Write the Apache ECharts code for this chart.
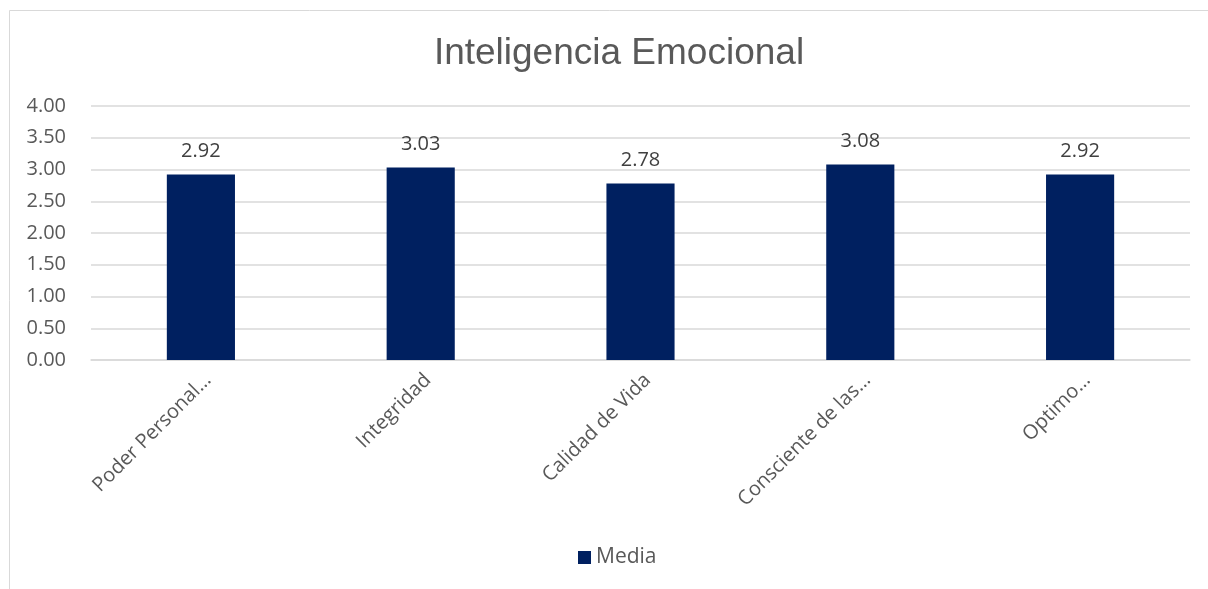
<!DOCTYPE html>
<html>
<head>
<meta charset="utf-8">
<script src="https://cdn.jsdelivr.net/npm/echarts@6/dist/echarts.min.js"></script>
<style>
html,body{margin:0;padding:0;background:#fff;}
#chart{width:1208px;height:589px;}
</style>
</head>
<body>
<div id="chart"></div>
<script>
// Category names and mean scores per dimension
const categories = ['Poder Personal…', 'Integridad', 'Calidad de Vida', 'Consciente de las…', 'Optimo…'];
const media = [2.92, 3.03, 2.78, 3.08, 2.92];
const yTicks = { min: 0, max: 4, interval: 0.5 };

const chart = echarts.init(document.getElementById('chart'));
chart.setOption({
  backgroundColor: '#ffffff',
  animation: false,
  graphic: [{
    type: 'rect',
    shape: { x: 9.5, y: 10.5, width: 1220, height: 600 },
    style: { fill: 'none', stroke: '#d9d9d9', lineWidth: 1 }
  }],
  title: {
    text: 'Inteligencia Emocional',
    left: 614,
    textAlign: 'center',
    top: 30,
    textStyle: { fontFamily: 'Liberation Sans', fontSize: 37, fontWeight: 'normal', color: '#595959' }
  },
  legend: {
    bottom: 16,
    left: 573,
    itemWidth: 13,
    itemHeight: 13,
    itemGap: 7,
    icon: 'rect',
    textStyle: { fontFamily: 'Open Sans', fontSize: 21, color: '#595959' },
    data: ['Media']
  },
  grid: { left: 91, right: 18, top: 106, bottom: 229, containLabel: false },
  xAxis: {
    type: 'category',
    data: categories,
    axisTick: { show: false },
    axisLine: { lineStyle: { color: '#d9d9d9', width: 1.5 } },
    axisLabel: {
      rotate: 45,
      interval: 0,
      margin: 10,
      verticalAlign: 'top',
      fontFamily: 'Open Sans',
      fontSize: 20,
      color: '#595959'
    }
  },
  yAxis: {
    type: 'value',
    min: yTicks.min,
    max: yTicks.max,
    interval: yTicks.interval,
    axisLine: { show: false },
    axisTick: { show: false },
    splitLine: { lineStyle: { color: '#d9d9d9', width: 1.5 } },
    axisLabel: {
      formatter: v => v.toFixed(2),
      margin: 25,
      fontFamily: 'Open Sans',
      fontSize: 20,
      color: '#595959'
    }
  },
  series: [{
    name: 'Media',
    type: 'bar',
    data: media,
    barWidth: '31%',
    itemStyle: { color: '#002060' },
    label: {
      show: true,
      position: 'top',
      distance: 13,
      formatter: p => p.value.toFixed(2),
      fontFamily: 'Open Sans',
      fontSize: 20,
      color: '#404040'
    }
  }]
});
</script>
</body>
</html>
